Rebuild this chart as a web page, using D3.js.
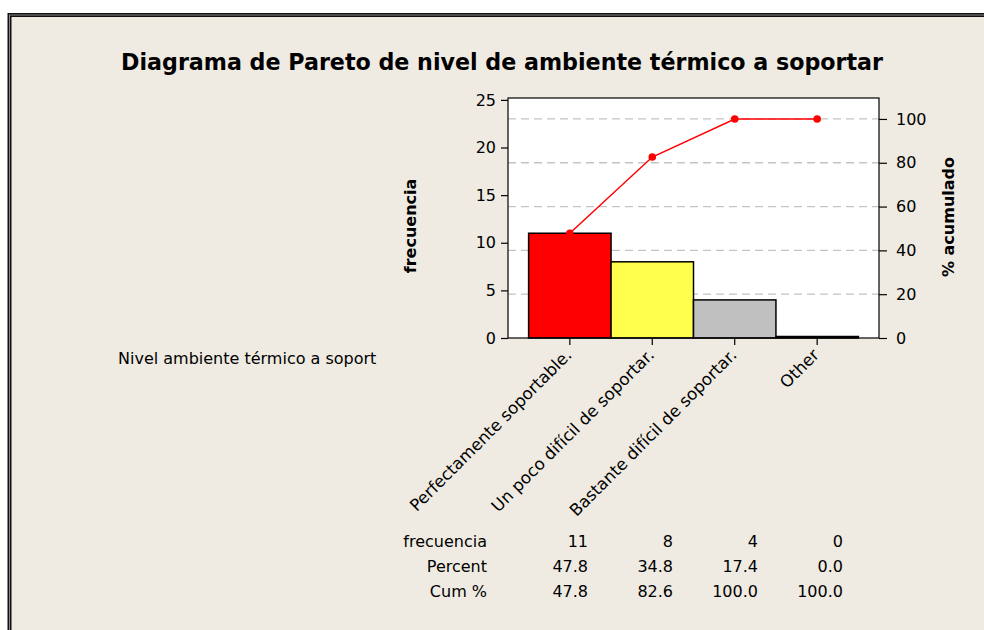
<!DOCTYPE html>
<html><head><meta charset="utf-8">
<script src="https://cdn.jsdelivr.net/npm/d3@7"></script>
<style>
html,body{margin:0;padding:0;background:#fff;}
svg{display:block;font-family:"DejaVu Sans",Verdana,sans-serif;}
</style></head>
<body>
<script>
const categories = ["Perfectamente soportable.", "Un poco difícil de soportar.", "Bastante difícil de soportar.", "Other"];
const counts = [11, 8, 4, 0];
const percents = [47.8, 34.8, 17.4, 0.0];
const cumPercents = [47.8, 82.6, 100.0, 100.0];
const barColors = ["#ff0000", "#ffff4d", "#c0c0c0", "#ffffff"];
const leftTicks = [0, 5, 10, 15, 20, 25];
const rightTicks = [0, 20, 40, 60, 80, 100];
const rowLabels = ["frecuencia", "Percent", "Cum %"];

const W = 984, H = 630;
const svg = d3.select("body").append("svg").attr("width", W).attr("height", H);

// background frame
svg.append("rect").attr("x", 0).attr("y", 0).attr("width", W).attr("height", H).attr("fill", "#ffffff");
svg.append("rect").attr("x", 9.5).attr("y", 15).attr("width", W + 20).attr("height", H + 20)
  .attr("fill", "#efebe2").attr("stroke", "#111").attr("stroke-width", 4);
svg.append("rect").attr("x", 9.5).attr("y", 15).attr("width", W + 20).attr("height", H + 20)
  .attr("fill", "none").attr("stroke", "#888").attr("stroke-width", 1);

const total = d3.sum(counts);
const plot = {left: 508, right: 879, top: 98, bottom: 338};
const yMax = 25.2;

const x = d3.scaleBand().domain(categories).range([plot.left, plot.right]).paddingInner(0).paddingOuter(0.25);
const y = d3.scaleLinear().domain([0, yMax]).range([plot.bottom, plot.top]);
const yR = d3.scaleLinear().domain([0, yMax * 100 / total]).range([plot.bottom, plot.top]);

// title
svg.append("text").attr("x", 502).attr("y", 70).attr("text-anchor", "middle")
  .attr("font-size", 22.2).attr("font-weight", "bold").attr("fill", "#000")
  .text("Diagrama de Pareto de nivel de ambiente térmico a soportar");

// plot area
svg.append("rect").attr("x", plot.left).attr("y", plot.top)
  .attr("width", plot.right - plot.left).attr("height", plot.bottom - plot.top)
  .attr("fill", "#ffffff");

// gridlines
svg.append("g").selectAll("line").data(rightTicks.filter(d => d > 0)).join("line")
  .attr("x1", plot.left).attr("x2", plot.right)
  .attr("y1", d => yR(d)).attr("y2", d => yR(d))
  .attr("stroke", "#c4c4c4").attr("stroke-width", 1.3).attr("stroke-dasharray", "8,5");

// bars
svg.append("g").selectAll("rect").data(categories).join("rect")
  .attr("x", d => x(d)).attr("width", x.bandwidth())
  .attr("y", (d, i) => counts[i] > 0 ? y(counts[i]) : y(0) - 1.5)
  .attr("height", (d, i) => counts[i] > 0 ? y(0) - y(counts[i]) : 1.5)
  .attr("fill", (d, i) => barColors[i]).attr("stroke", "#000").attr("stroke-width", 1.5);

// cumulative line
const line = d3.line().x((d, i) => x(categories[i]) + x.bandwidth() / 2).y(d => yR(d));
svg.append("path").datum(cumPercents).attr("d", line)
  .attr("fill", "none").attr("stroke", "#ff0000").attr("stroke-width", 1.5);
svg.append("g").selectAll("circle").data(cumPercents).join("circle")
  .attr("cx", (d, i) => x(categories[i]) + x.bandwidth() / 2).attr("cy", d => yR(d))
  .attr("r", 3.8).attr("fill", "#ff0000");

// frame border
svg.append("rect").attr("x", plot.left).attr("y", plot.top)
  .attr("width", plot.right - plot.left).attr("height", plot.bottom - plot.top)
  .attr("fill", "none").attr("stroke", "#000").attr("stroke-width", 1.2);

// axes
const fs = 16;
const gL = svg.append("g").attr("transform", `translate(${plot.left},0)`)
  .call(d3.axisLeft(y).tickValues(leftTicks).tickSize(7).tickPadding(5));
const gR = svg.append("g").attr("transform", `translate(${plot.right},0)`)
  .call(d3.axisRight(yR).tickValues(rightTicks).tickSize(8).tickPadding(9));
const gB = svg.append("g").attr("transform", `translate(0,${plot.bottom})`)
  .call(d3.axisBottom(x).tickSize(7).tickFormat(""));
[gL, gR, gB].forEach(g => {
  g.select(".domain").remove();
  g.selectAll(".tick line").attr("stroke", "#000").attr("stroke-width", 1.2);
  g.selectAll(".tick text").attr("font-size", fs).attr("font-family", "DejaVu Sans, Verdana, sans-serif").attr("fill", "#000");
});

// x labels rotated
svg.append("g").selectAll("text").data(categories).join("text")
  .attr("transform", d => `translate(${x(d) + x.bandwidth() / 2 + 3},${plot.bottom + 18}) rotate(-45)`)
  .attr("text-anchor", "end").attr("font-size", 16.6).attr("fill", "#000")
  .text(d => d);

// axis titles
svg.append("text").attr("transform", "translate(416,226) rotate(-90)")
  .attr("text-anchor", "middle").attr("font-size", fs).attr("font-weight", "bold").text("frecuencia");
svg.append("text").attr("transform", "translate(954,217) rotate(-90)")
  .attr("text-anchor", "middle").attr("font-size", fs).attr("font-weight", "bold").text("% acumulado");

// x axis title (left)
svg.append("text").attr("x", 118).attr("y", 364).attr("font-size", 16).text("Nivel ambiente térmico a soport");

// table
const rowsData = [counts.map(String), percents.map(d => d.toFixed(1)), cumPercents.map(d => d.toFixed(1))];
const colX = d3.scaleLinear().domain([0, 3]).range([588, 843]);
const rowY = d3.scaleLinear().domain([0, 2]).range([547, 597]);
rowLabels.forEach((lab, r) => {
  svg.append("text").attr("x", 487).attr("y", rowY(r)).attr("text-anchor", "end")
    .attr("font-size", fs).text(lab);
  rowsData[r].forEach((v, c) => {
    svg.append("text").attr("x", colX(c)).attr("y", rowY(r)).attr("text-anchor", "end")
      .attr("font-size", fs).text(v);
  });
});
</script>
</body></html>
